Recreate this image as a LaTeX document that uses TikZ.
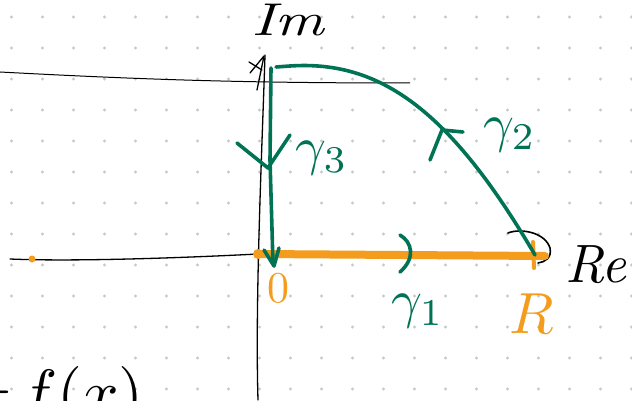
\documentclass[tikz,border=0pt]{standalone}
\usepackage{graphicx}
\usetikzlibrary{calc}
\definecolor{cgreen}{RGB}{0,115,85}
\definecolor{corange}{RGB}{243,156,30}
\definecolor{cdot}{RGB}{200,200,200}
\tikzset{
  axisline/.style={black,line width=1.3pt,line cap=round,line join=round},
  contour/.style={cgreen,line width=3.6pt,line cap=round,line join=round},
  segline/.style={corange,line width=8pt,line cap=round},
  greenlbl/.style={text=cgreen,inner sep=0pt},
  orangelbl/.style={text=corange,inner sep=0pt},
  blacklbl/.style={text=black,inner sep=0pt},
}
\begin{document}
\begin{tikzpicture}[x=1pt,y=-1pt]
\useasboundingbox (0,0) rectangle (632,401);
\fill[white] (0,0) rectangle (632,401);
\begin{scope}
\clip (0,0) rectangle (632,401);
% dot grid
\foreach \i in {0,...,20}{
  \foreach \j in {0,...,12}{
    \fill[cdot] ({11.5+31*\i},{17+31*\j}) circle (1.6);
  }
}
% coordinates
\coordinate (O) at (258,254);
\coordinate (R) at (535,255);
\coordinate (T) at (271,68);
% upper horizontal thin line
\draw[black,line width=1pt] (0,72) .. controls (150,80) and (250,83) .. (410,83);
% real axis
\draw[axisline] (10,259) .. controls (80,262) and (200,257) .. (O);
% imaginary axis
\draw[axisline] (258,400) .. controls (255,300) and (262,150) .. (265,55);
\draw[axisline] (250,73) -- (264,56) -- (257,90);
\draw[axisline] (249,62) -- (262,70);
% real axis arrow head loop
\draw[axisline,line width=1.6pt] (508,233) .. controls (520,228) and (545,232) .. (550,248) .. controls (552,258) and (545,262) .. (538,263);
% orange segment
\draw[segline] (O) -- (545,256);
\draw[corange,line width=4pt,line cap=round] (533,242) -- (534,268);
\fill[corange] (O) circle (5);
\fill[corange] (32,259) circle (3.5);
% green contour
\draw[contour] (R) .. controls (450,110) and (380,60) .. (290,66) -- (276,67);
\draw[contour] (T) -- (270,160) -- (273,264);
\draw[contour] (264,250) -- (274,266) -- (279,248);
% gamma3 arrow
\draw[contour] (237,143) -- (268,168) -- (290,135);
% gamma2 arrow
\draw[contour] (430,160) -- (442,130) -- (463,132);
% gamma1 arrow
\draw[contour] (400,235) .. controls (412,242) and (416,258) .. (400,272);
% labels
\node[greenlbl] (g3) at (322,158) {\scalebox{5.4}{$\gamma_3$}};
\node[greenlbl] (g2) at (510,135) {\scalebox{5.4}{$\gamma_2$}};
\node[greenlbl] (g1) at (418,311) {\scalebox{5.4}{$\gamma_1$}};
\node[orangelbl] (l0) at (278,288) {\scalebox{4.4}{$0$}};
\node[orangelbl] (lR) at (532,314) {\scalebox{5.8}{$R$}};
\node[blacklbl] (lRe) at (598,264) {\scalebox{5.4}{$\mathit{Re}$}};
\node[blacklbl] (lIm) at (290,20) {\scalebox{6}[4.6]{$\mathit{Im}$}};
\node[blacklbl,anchor=base east] (fx) at (144,414) {\scalebox{6.4}{$=\!f(x)$}};
\end{scope}
\end{tikzpicture}
\end{document}
